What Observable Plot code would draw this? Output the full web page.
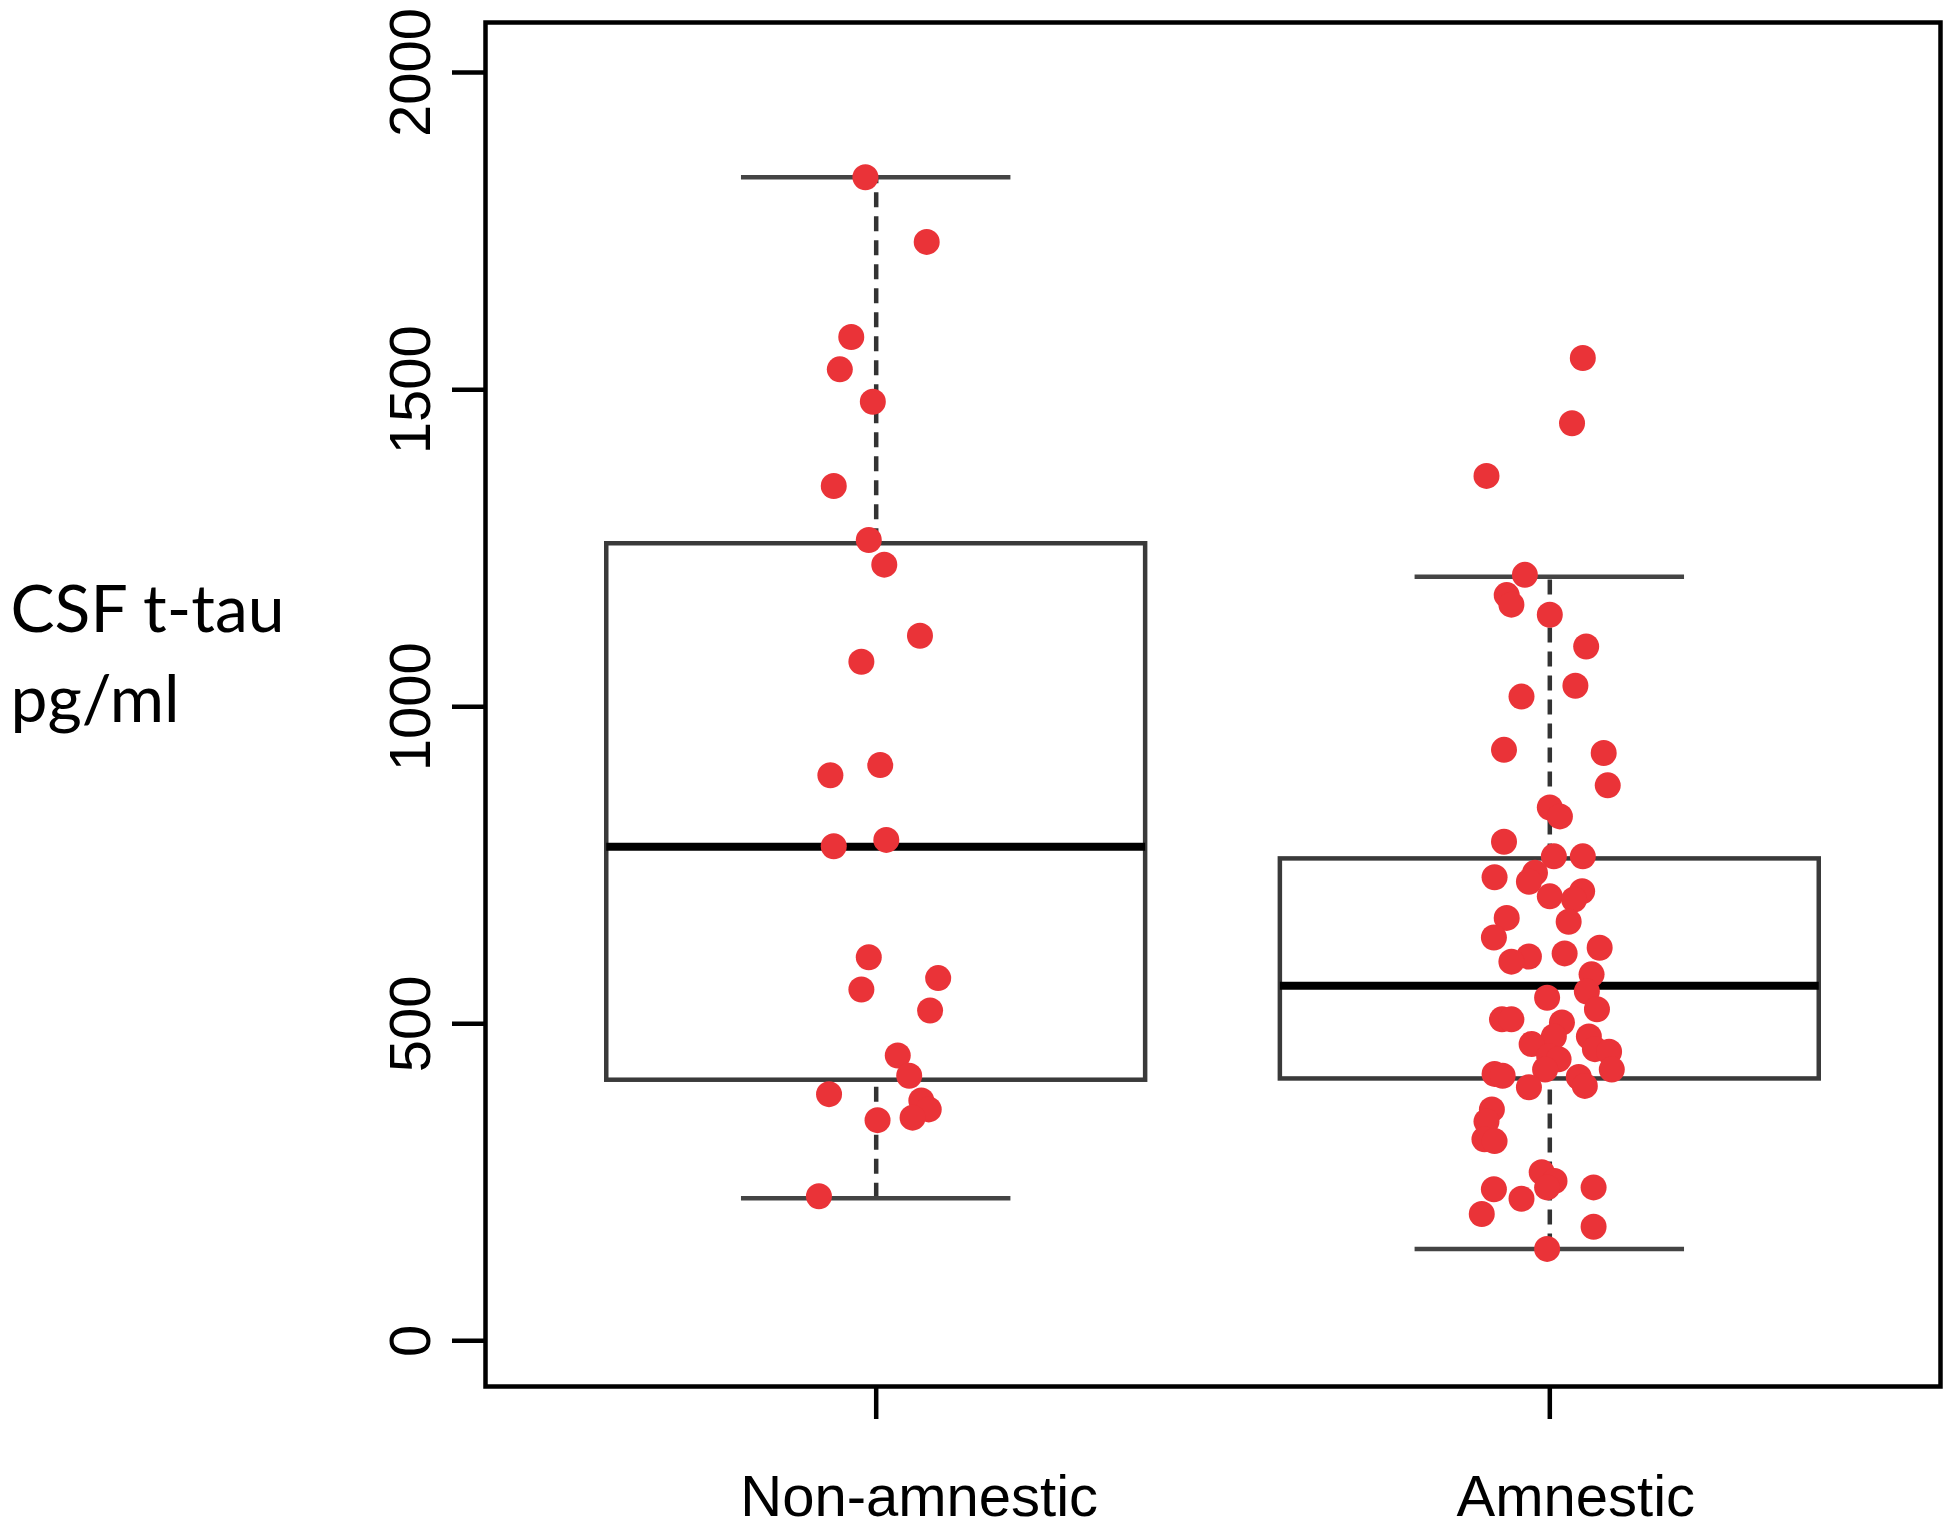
<!DOCTYPE html>
<html>
<head>
<meta charset="utf-8">
<script src="https://cdn.jsdelivr.net/npm/d3@7"></script>
<script src="https://cdn.jsdelivr.net/npm/@observablehq/plot@0.6"></script>
<style>
  body { margin: 0; background: #fff; }
  #chart { width: 1950px; height: 1527px; }
</style>
</head>
<body>
<div id="chart"></div>
<script>
// ---- data ----
const categories = ["Non-amnestic", "Amnestic"];
const yTicks = [0, 500, 1000, 1500, 2000];
const yLabel = "CSF t-tau\npg/ml";

// jittered observations (value in pg/ml, horizontal jitter in group units)
const nonAmnesticValues = [1835, 1733, 1583, 1532, 1481, 1348, 1263, 1224, 1112, 1071, 908, 892, 790, 780, 605, 572, 554, 521, 450, 418, 389, 379, 365, 352, 348, 228];
const nonAmnesticJitter = [-0.016, 0.075, -0.037, -0.054, -0.005, -0.063, -0.011, 0.012, 0.065, -0.022, 0.006, -0.068, 0.015, -0.063, -0.011, 0.092, -0.022, 0.080, 0.032, 0.049, -0.070, 0.067, 0.078, 0.054, 0.002, -0.085];

const amnesticValues = [1550, 1447, 1364, 1208, 1176, 1161, 1145, 1095, 1033, 1016,
  932, 927, 876, 841, 827, 787, 764, 764, 738, 731,
  724, 709, 701, 696, 667, 661, 636, 620, 611, 606,
  598, 578, 551, 541, 523, 507, 507, 502, 480, 480,
  468, 460, 456, 449, 444, 428, 428, 421, 418, 416,
  402, 400, 365, 346, 318, 315, 266, 252, 242, 242,
  239, 224, 200, 180, 145];
const amnesticJitter = [0.049, 0.033, -0.094, -0.037, -0.064, -0.057, 0.000, 0.054, 0.038, -0.042,
  -0.068, 0.080, 0.086, 0.000, 0.015, -0.068, 0.006, 0.049, -0.022, -0.082,
  -0.031, 0.048, 0.000, 0.036, -0.064, 0.028, -0.083, 0.074, 0.022, -0.031,
  -0.057, 0.062, 0.055, -0.004, 0.070, -0.071, -0.057, 0.018, 0.006, 0.058,
  -0.027, 0.067, 0.088, -0.001, 0.013, -0.007, 0.092, -0.082, -0.070, 0.043,
  0.052, -0.031, -0.086, -0.094, -0.097, -0.082, -0.012, 0.007, -0.004, 0.065,
  -0.083, -0.042, -0.101, 0.065, -0.004];

// box-plot statistics as drawn
const boxLow    = [225, 145];
const boxQ1     = [411, 413];
const boxMedian = [779, 560];
const boxQ3     = [1257, 760];
const boxHigh   = [1835, 1205];

// ---- tables built from the arrays ----
const points = [
  ...nonAmnesticValues.map((v, i) => ({group: 0, value: v, jitter: nonAmnesticJitter[i]})),
  ...amnesticValues.map((v, i) => ({group: 1, value: v, jitter: amnesticJitter[i]}))
];
const boxes = categories.map((c, i) => ({
  group: i, name: c, low: boxLow[i], q1: boxQ1[i], median: boxMedian[i], q3: boxQ3[i], high: boxHigh[i]
}));
const pos = g => g + 1;
const boxHalf = 0.4, capHalf = 0.2;
const lineW = 4.5;

const plot = Plot.plot({
  width: 1950,
  height: 1527,
  marginLeft: 485,
  marginRight: 10,
  marginTop: 22,
  marginBottom: 141,
  style: {fontFamily: "'Liberation Sans', Arial, sans-serif", fontSize: "58px", background: "#fff", color: "#000"},
  x: {domain: [0.42, 2.58]},
  y: {domain: [-72, 2079]},
  marks: [
    Plot.rect(boxes, {x1: d => pos(d.group) - boxHalf, x2: d => pos(d.group) + boxHalf, y1: "q1", y2: "q3",
      fill: "none", stroke: "#3a3a3a", strokeWidth: lineW}),
    Plot.ruleX(boxes, {x: d => pos(d.group), y1: "q3", y2: "high", stroke: "#333", strokeWidth: lineW, strokeDasharray: "15,9"}),
    Plot.ruleX(boxes, {x: d => pos(d.group), y1: "low", y2: "q1", stroke: "#333", strokeWidth: lineW, strokeDasharray: "15,9"}),
    Plot.ruleY(boxes, {y: "high", x1: d => pos(d.group) - capHalf, x2: d => pos(d.group) + capHalf, stroke: "#444", strokeWidth: lineW}),
    Plot.ruleY(boxes, {y: "low", x1: d => pos(d.group) - capHalf, x2: d => pos(d.group) + capHalf, stroke: "#444", strokeWidth: lineW}),
    Plot.ruleY(boxes, {y: "median", x1: d => pos(d.group) - boxHalf, x2: d => pos(d.group) + boxHalf, stroke: "#000", strokeWidth: 8}),
    Plot.dot(points, {x: d => pos(d.group) + d.jitter, y: "value", r: 13, fill: "#ea3338", stroke: "none"}),
    Plot.frame({stroke: "#000", strokeWidth: 4.5}),
    Plot.axisY({ticks: yTicks, tickSize: 33, tickPadding: 23, tickRotate: -90, tickFormat: d => String(d),
      strokeWidth: 4.5, label: null, fontSize: 58}),
    Plot.axisX({ticks: [1, 2], tickSize: 33, tickFormat: () => "", strokeWidth: 4.5, label: null}),
    Plot.text([categories[0]], {x: () => pos(0), frameAnchor: "bottom", lineAnchor: "top", dy: 88, dx: 43, fontSize: 58, fill: "#000"}),
    Plot.text([categories[1]], {x: () => pos(1), frameAnchor: "bottom", lineAnchor: "top", dy: 88, dx: 26, fontSize: 58, fill: "#000"}),
    Plot.text([yLabel], {frameAnchor: "left", textAnchor: "start", lineAnchor: "top", dx: -475, dy: -136,
      fontFamily: "Lato", fontSize: 66, lineHeight: 1.36, fill: "#000"})
  ]
});
document.getElementById("chart").appendChild(plot);
</script>
</body>
</html>
